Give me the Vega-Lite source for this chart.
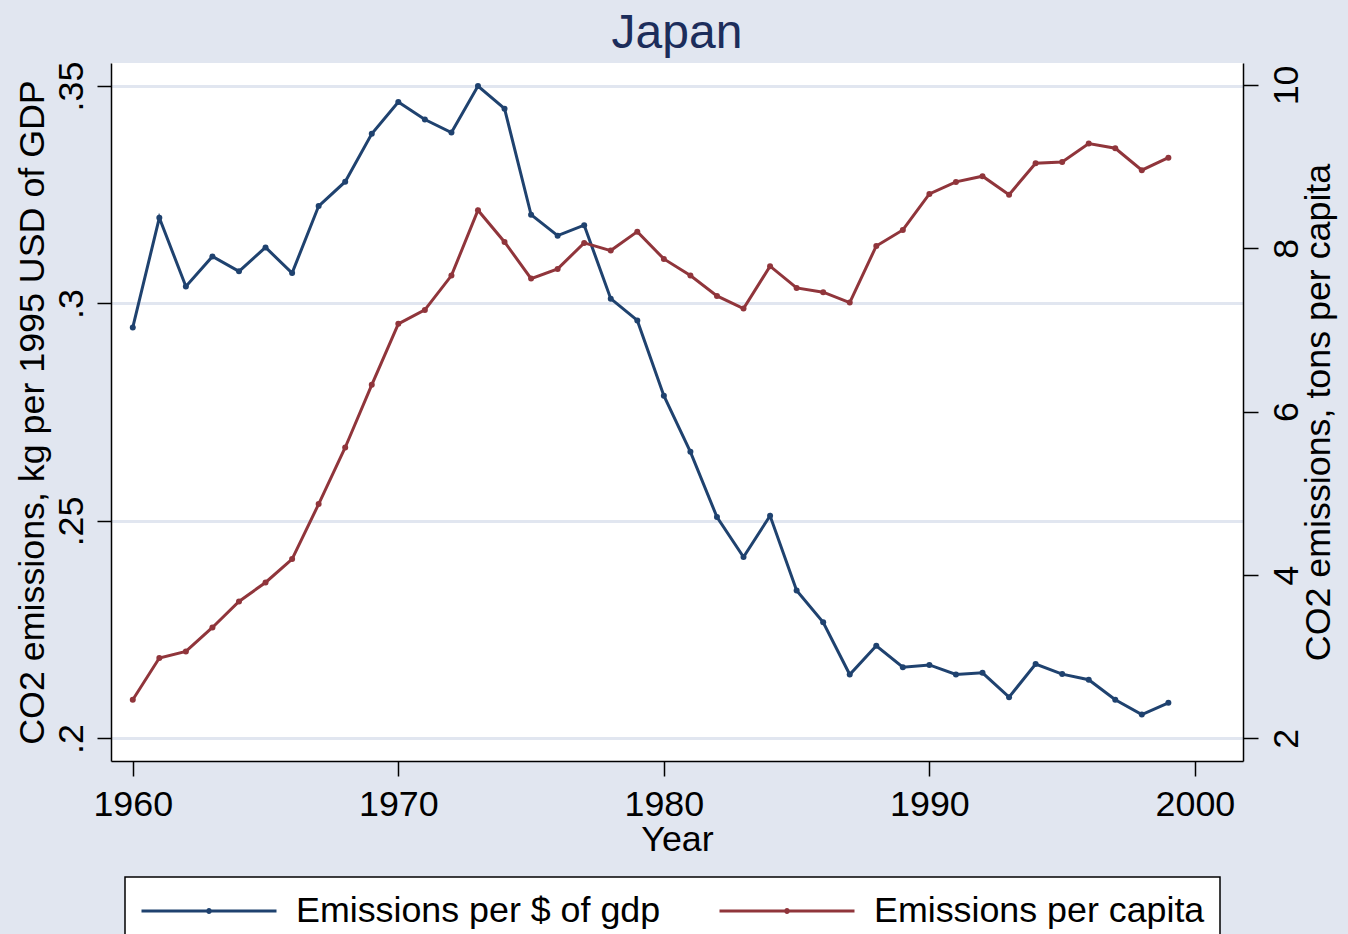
{
  "$schema": "https://vega.github.io/schema/vega-lite/v6.json",
  "width": 1132,
  "height": 698,
  "autosize": {"type": "none"},
  "padding": {"left": 111, "top": 63, "right": 105, "bottom": 173},
  "background": "#e1e6f0",
  "title": {"text": "Japan", "fontSize": 48, "font": "Liberation Sans", "fontWeight": "normal", "color": "#1c2d5b", "baseline": "alphabetic", "offset": -35, "anchor": "middle", "frame": "group"},
  "data": {"values": [
    {"year": 1960, "gdp": 0.2945, "capita": 2.472},
    {"year": 1961, "gdp": 0.3197, "capita": 2.983},
    {"year": 1962, "gdp": 0.3039, "capita": 3.064},
    {"year": 1963, "gdp": 0.3108, "capita": 3.357},
    {"year": 1964, "gdp": 0.3074, "capita": 3.676},
    {"year": 1965, "gdp": 0.3129, "capita": 3.908},
    {"year": 1966, "gdp": 0.3070, "capita": 4.195},
    {"year": 1967, "gdp": 0.3224, "capita": 4.868},
    {"year": 1968, "gdp": 0.3280, "capita": 5.561},
    {"year": 1969, "gdp": 0.3390, "capita": 6.328},
    {"year": 1970, "gdp": 0.3463, "capita": 7.075},
    {"year": 1971, "gdp": 0.3423, "capita": 7.246},
    {"year": 1972, "gdp": 0.3393, "capita": 7.666},
    {"year": 1973, "gdp": 0.3500, "capita": 8.466},
    {"year": 1974, "gdp": 0.3448, "capita": 8.078},
    {"year": 1975, "gdp": 0.3204, "capita": 7.629},
    {"year": 1976, "gdp": 0.3156, "capita": 7.748},
    {"year": 1977, "gdp": 0.3180, "capita": 8.066},
    {"year": 1978, "gdp": 0.3011, "capita": 7.972},
    {"year": 1979, "gdp": 0.2961, "capita": 8.204},
    {"year": 1980, "gdp": 0.2788, "capita": 7.870},
    {"year": 1981, "gdp": 0.2659, "capita": 7.666},
    {"year": 1982, "gdp": 0.2509, "capita": 7.417},
    {"year": 1983, "gdp": 0.2417, "capita": 7.262},
    {"year": 1984, "gdp": 0.2512, "capita": 7.781},
    {"year": 1985, "gdp": 0.2340, "capita": 7.515},
    {"year": 1986, "gdp": 0.2267, "capita": 7.463},
    {"year": 1987, "gdp": 0.2147, "capita": 7.335},
    {"year": 1988, "gdp": 0.2213, "capita": 8.029},
    {"year": 1989, "gdp": 0.2164, "capita": 8.225},
    {"year": 1990, "gdp": 0.2169, "capita": 8.666},
    {"year": 1991, "gdp": 0.2147, "capita": 8.813},
    {"year": 1992, "gdp": 0.2151, "capita": 8.883},
    {"year": 1993, "gdp": 0.2095, "capita": 8.657},
    {"year": 1994, "gdp": 0.2171, "capita": 9.042},
    {"year": 1995, "gdp": 0.2148, "capita": 9.058},
    {"year": 1996, "gdp": 0.2135, "capita": 9.282},
    {"year": 1997, "gdp": 0.2089, "capita": 9.225},
    {"year": 1998, "gdp": 0.2055, "capita": 8.956},
    {"year": 1999, "gdp": 0.2082, "capita": 9.110}
  ]},
  "encoding": {
    "x": {
      "field": "year", "type": "quantitative",
      "scale": {"domain": [1959.18, 2001.81], "nice": false, "zero": false},
      "axis": {"title": "Year", "values": [1960, 1970, 1980, 1990, 2000], "format": "d", "labelAngle": 0, "labelAlign": "center", "labelBaseline": "top", "tickSize": 15, "labelPadding": 11, "grid": false, "titlePadding": 1}
    }
  },
  "layer": [
    {
      "mark": {"type": "line", "strokeWidth": 3, "point": {"filled": true, "size": 36}},
      "encoding": {
        "y": {
          "field": "gdp", "type": "quantitative",
          "scale": {"domain": [0.19482, 0.35529], "nice": false, "zero": false},
          "axis": {"orient": "left", "title": "CO2 emissions, kg per 1995 USD of GDP", "values": [0.2, 0.25, 0.3, 0.35], "labelExpr": "replace(format(datum.value, '.2~f'), '0.', '.')", "labelAngle": 270, "labelAlign": "center", "labelBaseline": "alphabetic", "labelPadding": 15, "tickSize": 14, "grid": true, "gridColor": "#e1e6f0", "gridWidth": 3, "titleAngle": 270, "titleBaseline": "alphabetic", "titlePadding": 10}
        },
        "color": {
          "datum": "Emissions per $ of gdp",
          "scale": {"domain": ["Emissions per $ of gdp", "Emissions per capita"], "range": ["#1f426f", "#90353b"]},
          "legend": {"title": null, "orient": "none", "legendX": 14, "legendY": 814, "direction": "horizontal", "symbolType": "M-1,0H1M0.022,0A0.022,0.022,0,1,1,-0.022,0A0.022,0.022,0,1,1,0.022,0", "symbolSize": 18225, "symbolStrokeWidth": 3, "labelOffset": 18, "columnPadding": 57, "padding": 15, "fillColor": "white", "strokeColor": "black", "clipHeight": 38, "labelFontSize": 35.8, "labelFont": "Liberation Sans", "labelColor": "black", "labelLimit": 1000,
            "encode": {"legend": {"update": {"strokeWidth": {"value": 1.5}}}}}
        }
      }
    },
    {
      "mark": {"type": "line", "strokeWidth": 3, "point": {"filled": true, "size": 36}},
      "encoding": {
        "y": {
          "field": "capita", "type": "quantitative",
          "scale": {"domain": [1.722, 10.269], "nice": false, "zero": false},
          "axis": {"orient": "right", "title": "CO2 emissions, tons per capita", "values": [2, 4, 6, 8, 10], "labelAngle": 270, "labelAlign": "center", "labelBaseline": "top", "labelPadding": 11, "tickSize": 15, "grid": false, "titleAngle": 270, "titleBaseline": "top", "titlePadding": -2}
        },
        "color": {"datum": "Emissions per capita"}
      }
    }
  ],
  "resolve": {"scale": {"y": "independent"}},
  "config": {
    "font": "Liberation Sans",
    "view": {"fill": "white", "stroke": null},
    "axis": {"labelFont": "Liberation Sans", "titleFont": "Liberation Sans", "labelFontSize": 35.8, "titleFontSize": 35.8, "titleFontWeight": "normal", "labelColor": "black", "titleColor": "black", "domainColor": "black", "tickColor": "black", "domainWidth": 1.5, "tickWidth": 1.5, "labelFlush": false, "labelOverlap": false, "minExtent": 0}
  }
}
